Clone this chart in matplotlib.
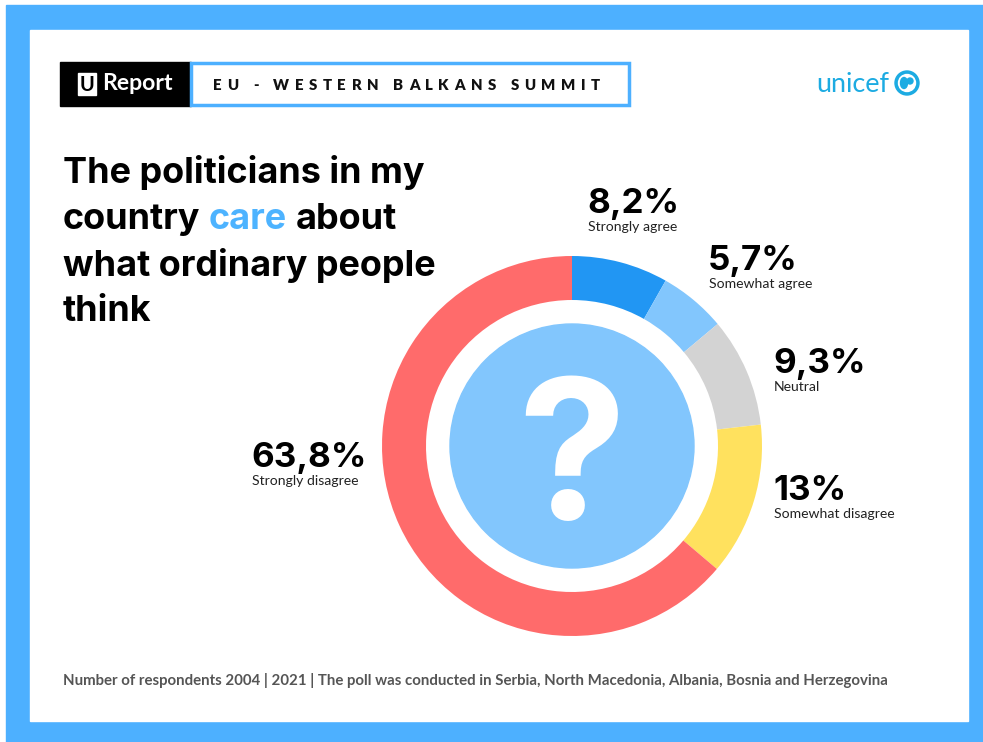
import matplotlib
matplotlib.use("Agg")
import matplotlib.pyplot as plt
from matplotlib.patches import Rectangle, Circle, Ellipse

# poll data
labels = ["Strongly agree", "Somewhat agree", "Neutral", "Somewhat disagree", "Strongly disagree"]
values = [8.2, 5.7, 9.3, 13.0, 63.8]
value_text = ["8,2%", "5,7%", "9,3%", "13%", "63,8%"]
colors = ["#2196F3", "#82C6FD", "#D3D3D3", "#FFE15E", "#FF6B6B"]

title_lines = ["The politicians in my", "country", "care", "about", "what ordinary people", "think"]
header = "EU - WESTERN BALKANS SUMMIT"
footer = ("Number of respondents 2004 | 2021 | The poll was conducted in Serbia, "
          "North Macedonia, Albania, Bosnia and Herzegovina")

W, H = 983, 742
FONT = "Lato"
BIG = "Inter"


def Y(y):
    return H - y


def pt(px):
    return px / (100 / 72)


fig = plt.figure(figsize=(W / 100, H / 100), dpi=100)
fig.patch.set_facecolor("white")
ax = fig.add_axes([0, 0, 1, 1])
renderer = fig.canvas.get_renderer()

# frame
ax.add_patch(Rectangle((6, 0), W - 6, H - 5, color="#4DB0FF", zorder=0))
ax.add_patch(Rectangle((30, Y(721)), 938, 691, color="white", zorder=1))

# header boxes
ax.add_patch(Rectangle((60, Y(106)), 131, 44, color="black", zorder=2))
ax.add_patch(Rectangle((191, Y(105)), 438, 42, facecolor="white",
                       edgecolor="#4DB0FF", lw=2.5, zorder=2))
ax.add_patch(Rectangle((78, Y(95)), 18, 22, color="white", zorder=3))
ax.text(87, Y(85), "U", color="black", fontsize=pt(20), fontweight="bold",
        family=FONT, ha="center", va="center", zorder=4)
ax.text(102, Y(84), "Report", color="white", fontsize=pt(23), fontweight="bold",
        family=FONT, ha="left", va="center", zorder=4)

# letter-spaced header text
x = 213
for ch in header:
    if ch == " ":
        x += 9
        continue
    t = ax.text(x, Y(85), ch, fontsize=pt(15), fontweight="heavy", family=FONT,
                ha="left", va="center", color="#111111", zorder=4)
    x += t.get_window_extent(renderer).width + 5.6

# unicef logo
ax.text(816, Y(84), "unicef", color="#1CABE2", fontsize=pt(27), family=FONT,
        ha="left", va="center", zorder=3)
ax.add_patch(Circle((907, Y(83)), 12, color="#1CABE2", zorder=3))
ax.add_patch(Circle((907, Y(83)), 8.5, color="white", zorder=4))
ax.add_patch(Ellipse((904, Y(83)), 7, 11, color="#1CABE2", zorder=5))
ax.add_patch(Circle((910, Y(81)), 3, color="#1CABE2", zorder=5))

# title
tkw = dict(fontsize=pt(36), fontweight="bold", family=BIG, ha="left",
           va="baseline", color="black", zorder=3)
ax.text(63, Y(183), title_lines[0], **tkw)
x = 63
t = ax.text(x, Y(229), title_lines[1], **tkw)
x += t.get_window_extent(renderer).width
sp = ax.text(0, 0, "a a", **tkw)
sp2 = ax.text(0, 0, "aa", **tkw)
space = sp.get_window_extent(renderer).width - sp2.get_window_extent(renderer).width
sp.remove()
sp2.remove()
x += space
t = ax.text(x, Y(229), title_lines[2], **{**tkw, "color": "#4DB3FF"})
x += t.get_window_extent(renderer).width + space
ax.text(x, Y(229), title_lines[3], **tkw)
ax.text(63, Y(276), title_lines[4], **tkw)
ax.text(63, Y(321), title_lines[5], **tkw)

# donut
cx, cy = 572, Y(446)
ax.pie(values, colors=colors, startangle=90, counterclock=False,
       center=(cx, cy), radius=190, wedgeprops=dict(width=44, linewidth=0))
ax.add_patch(Circle((cx, cy), 122, color="#82C6FD", zorder=5))
ax.text(cx, Y(468), "?", color="white", fontsize=pt(195), fontweight="bold",
        family=BIG, ha="center", va="center", zorder=6)

# value labels
label_pos = [(587, 213), (708, 270), (773, 373), (773, 500), (251, 467)]
for (lx, ly), v, lab in zip(label_pos, value_text, labels):
    ax.text(lx, Y(ly), v, fontsize=pt(35), fontweight="bold", family=BIG,
            ha="left", va="baseline", color="black", zorder=3)
    ax.text(lx + 1, Y(ly + 18), lab, fontsize=pt(14), family=FONT,
            ha="left", va="baseline", color="#222222", zorder=3)

# footer
ax.text(63, Y(681), footer, fontsize=pt(15), fontweight="bold", family=FONT,
        ha="left", va="center", color="#555555", zorder=3)

ax.set_xlim(0, W)
ax.set_ylim(0, H)
ax.set_aspect("auto")
ax.axis("off")

fig.savefig("out.png", dpi=100)
